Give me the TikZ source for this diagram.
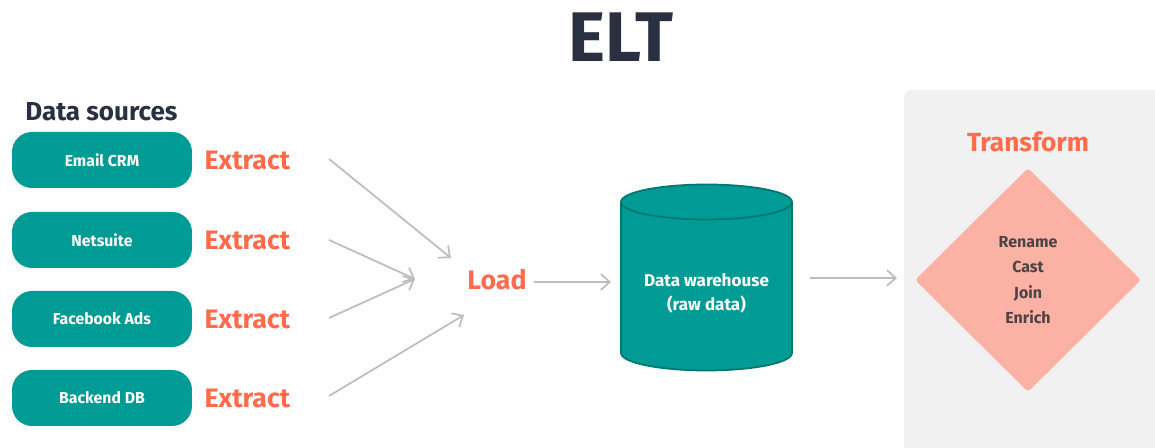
\documentclass[tikz,border=0pt]{standalone}
\usepackage{fontspec}
\setmainfont{Fira Sans}
\usepackage{xcolor}
\usepackage{tikz}
\usetikzlibrary{arrows.meta,positioning,shapes.geometric}
\definecolor{eltteal}{HTML}{009B94}
\definecolor{eltedge}{HTML}{00776F}
\definecolor{eltorange}{HTML}{FF6B4B}
\definecolor{eltgray}{HTML}{BDBDBD}
\definecolor{eltdark}{HTML}{2A3042}
\definecolor{eltpanel}{HTML}{F1F1F1}
\definecolor{eltsalmon}{HTML}{FBB2A4}
\definecolor{eltstep}{HTML}{4A4445}

\begin{document}
\begin{tikzpicture}[x=0.02cm,y=0.02cm,>={Straight Barb[length=5pt,width=9pt]},
  srcbox/.style={fill=eltteal,rounded corners=0.4cm,minimum width=3.6cm,minimum height=1.12cm,text=white,font=\fontsize{9}{11}\selectfont\bfseries},
  steplbl/.style={text=eltorange,font=\fontsize{15.2}{17}\selectfont\bfseries},
  flowarrow/.style={->,draw=eltgray,line width=1pt}]
\useasboundingbox (0,0) rectangle (1155,448);
\begin{scope}
\clip (0,0) rectangle (1155,448);
\fill[eltpanel,rounded corners=0.16cm] (904,-20) rectangle (1180,358);
\end{scope}
\node[text=eltdark,font=\fontsize{40}{42}\selectfont\bfseries] (title) at (621,411) {ELT};
\node[anchor=base west,inner sep=0,text=eltdark,font=\fontsize{14.8}{17}\selectfont\bfseries] (srchead) at (25,327) {Data sources};
\node[srcbox] (email) at (102,288) {Email CRM};
\node[srcbox] (netsuite) at (102,208) {Netsuite};
\node[srcbox] (fbads) at (102,129) {Facebook Ads};
\node[srcbox] (backend) at (102,50) {Backend DB};
\node[steplbl,right=0.12cm of email] (ex1) {Extract};
\node[steplbl,right=0.12cm of netsuite] (ex2) {Extract};
\node[steplbl,right=0.12cm of fbads] (ex3) {Extract};
\node[steplbl,right=0.12cm of backend] (ex4) {Extract};
\coordinate (s1) at (329,289);
\coordinate (s2) at (329,208);
\coordinate (s3) at (329,130);
\coordinate (s4) at (329,52);
\coordinate (t1) at (451,190);
\coordinate (t2) at (415,169);
\coordinate (t4) at (464,133);
\draw[flowarrow] (s1) -- (t1);
\draw[flowarrow] (s2) -- (t2);
\draw[flowarrow] (s3) -- (t2);
\draw[flowarrow] (s4) -- (t4);
\node[steplbl] (load) at (497,168) {Load};
\coordinate (ldout) at (534,166);
\coordinate (dwin) at (611,166);
\draw[flowarrow] (ldout) -- (dwin);
\fill[eltteal,draw=eltedge,line width=1pt] (621,246) -- (621,95) arc[start angle=180,end angle=360,x radius=85.5,y radius=17.5] -- (792,246) arc[start angle=0,end angle=180,x radius=85.5,y radius=17.5] -- cycle;
\draw[eltedge,line width=1pt] (621,246) arc[start angle=180,end angle=360,x radius=85.5,y radius=17.5];
\node[align=center,text=white,font=\fontsize{9.7}{13.6}\selectfont\bfseries] (dw) at (706.5,155) {Data warehouse\\(raw data)};
\coordinate (dwout) at (810,170);
\coordinate (trin) at (897,170);
\draw[flowarrow] (dwout) -- (trin);
\node[steplbl,font=\fontsize{14.9}{17}\selectfont\bfseries] (transform) at (1028,306) {Transform};
\node[diamond,fill=eltsalmon,rounded corners=2pt,minimum width=4.52cm,minimum height=4.48cm,inner sep=0,align=center,text=eltstep,font=\fontsize{9.1}{14.5}\selectfont\bfseries] (steps) at (1028,168) {Rename\\Cast\\Join\\Enrich};
\end{tikzpicture}
\end{document}
